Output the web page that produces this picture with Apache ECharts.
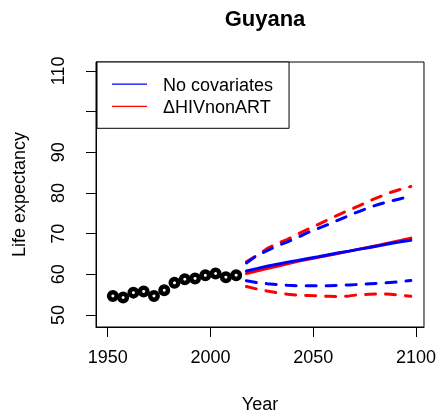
<!DOCTYPE html>
<html><head><meta charset="utf-8">
<script src="https://cdn.jsdelivr.net/npm/echarts@6/dist/echarts.min.js"></script>
<style>html,body{margin:0;padding:0;background:#fff;}#c{width:439px;height:420px;}</style>
</head><body><div id="c"></div>
<script>
const histYears = [1952.5,1957.5,1962.5,1967.5,1972.5,1977.5,1982.5,1987.5,1992.5,1997.5,2002.5,2007.5,2012.5];
const histValues = [54.7,54.3,55.5,55.8,54.7,56.1,57.9,58.8,59.0,59.75,60.2,59.3,59.8];
const projYears = [2017.5,2022.5,2027.5,2032.5,2037.5,2042.5,2047.5,2052.5,2057.5,2062.5,2067.5,2072.5,2077.5,2082.5,2087.5,2092.5,2097.5];
const noCovMedian = [60.8,61.4,62.0,62.5,63.0,63.4,63.9,64.3,64.8,65.3,65.7,66.2,66.6,67.1,67.6,68.0,68.4];
const noCovUpper  = [62.8,64.6,65.8,67.0,68.0,69.1,70.3,71.3,72.3,73.4,74.5,75.5,76.5,77.3,78.0,78.6,79.2];
const noCovLower  = [58.4,58.0,57.7,57.5,57.3,57.2,57.2,57.2,57.2,57.3,57.4,57.5,57.7,57.8,58.0,58.2,58.5];
const hivMedian = [60.2,60.8,61.4,62.0,62.6,63.2,63.7,64.2,64.7,65.2,65.7,66.2,66.7,67.2,67.8,68.3,68.9];
const hivUpper  = [63.1,64.6,66.3,67.6,68.6,69.9,71.1,72.3,73.5,74.7,75.8,76.9,78.1,79.1,80.1,80.9,81.6];
const hivLower  = [57.0,56.4,55.9,55.5,55.1,54.9,54.8,54.7,54.6,54.5,54.7,55.0,55.1,55.2,55.1,54.9,54.6];
const xTicks = [1950,2000,2050,2100];
const yTicks = [50,60,70,80,90,100,110];
const yTickLabels = [50,60,70,80,90,110];
const legendNames = ['No covariates','\u0394HIVnonART'];

const FONT = '"Liberation Sans", Arial, Helvetica, sans-serif';
const pairs = (xs, ys) => xs.map((x, i) => [x, ys[i]]);
const BLUE = '#0000ff', RED = '#ff0000';
function proj(name, ys, color, dashed) {
  return {
    type: 'line', name: name, data: pairs(projYears, ys), symbol: 'none',
    silent: true, animation: false, z: 3,
    lineStyle: { color: color, width: 3, type: dashed ? [10, 10] : 'solid', cap: 'round' },
    itemStyle: { color: color }
  };
}
const chart = echarts.init(document.getElementById('c'), null, { renderer: 'canvas' });
chart.setOption({
  animation: false,
  backgroundColor: '#fff',
  title: {
    text: 'Guyana', left: 260, top: 4, textAlign: 'center',
    textStyle: { fontFamily: FONT, fontSize: 22, fontWeight: 'bold', color: '#000' }
  },
  grid: { left: 96, top: 62, width: 328, height: 265, show: true, borderColor: '#000', borderWidth: 1, backgroundColor: 'transparent' },
  xAxis: {
    type: 'value', min: 1944.3, max: 2103.9,
    name: 'Year', nameLocation: 'middle', nameGap: 69,
    nameTextStyle: { fontFamily: FONT, fontSize: 18, color: '#000' },
    axisLine: { show: true, lineStyle: { color: '#000', width: 1 } },
    axisTick: { show: true, inside: false, length: 10, customValues: xTicks, lineStyle: { color: '#000' } },
    axisLabel: { customValues: xTicks, formatter: v => String(v), margin: 22, fontFamily: FONT, fontSize: 18, color: '#000' },
    splitLine: { show: false }
  },
  yAxis: {
    type: 'value', min: 47.05, max: 112.2,
    name: 'Life expectancy', nameLocation: 'middle', nameGap: 67, nameRotate: 90,
    nameTextStyle: { fontFamily: FONT, fontSize: 18, color: '#000' },
    axisLine: { show: true, lineStyle: { color: '#000', width: 1 } },
    axisTick: { show: true, inside: false, length: 10, customValues: yTicks, lineStyle: { color: '#000' } },
    axisLabel: { customValues: yTickLabels, formatter: v => String(v), rotate: 90, margin: 28, fontFamily: FONT, fontSize: 18, color: '#000' },
    splitLine: { show: false }
  },
  legend: {
    show: true,
    data: legendNames, left: 97, top: 62, orient: 'vertical',
    backgroundColor: '#fff', borderColor: '#000', borderWidth: 1,
    padding: [13, 16, 9, 15], itemWidth: 35, itemHeight: 6, itemGap: 0.3,
    icon: 'path://M0,0H35V1.2H0Z M0,5H0.01V5.01H0Z', selectedMode: false,
    textStyle: { fontFamily: FONT, fontSize: 18, color: '#000', lineHeight: 22, padding: [0, 0, 0, 11] }
  },
  series: [
    {
      type: 'scatter', name: 'observed', data: pairs(histYears, histValues),
      symbol: 'circle', symbolSize: 7.5, silent: true, z: 4,
      itemStyle: { color: '#fff', borderColor: '#000', borderWidth: 4.5, opacity: 1 }
    },
    proj('\u0394HIVnonART', hivMedian, RED, false),
    proj('hivUpper', hivUpper, RED, true),
    proj('hivLower', hivLower, RED, true),
    proj('No covariates', noCovMedian, BLUE, false),
    proj('noCovUpper', noCovUpper, BLUE, true),
    proj('noCovLower', noCovLower, BLUE, true)
  ]
});
</script></body></html>
